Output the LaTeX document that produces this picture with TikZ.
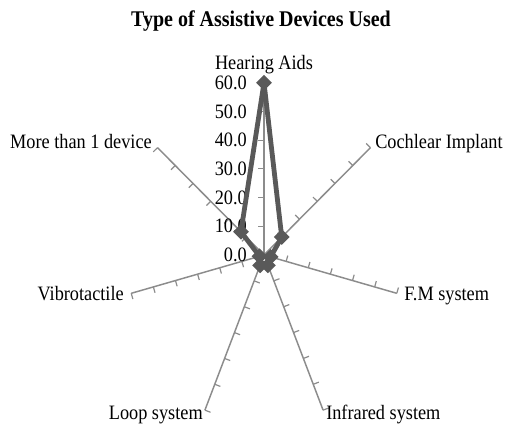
\documentclass[tikz,border=0pt]{standalone}
\usepackage{fontspec}
\setmainfont{Liberation Serif}
\usetikzlibrary{calc,shapes.geometric}
\definecolor{serie}{HTML}{595959}
\definecolor{axisgray}{HTML}{8C8C8C}
\newcommand{\vst}[1]{\scalebox{1}[1.12]{#1}}
\begin{document}
\begin{tikzpicture}[x=0.75pt,y=0.75pt,
  lbl/.style={inner sep=0pt, font=\fontsize{13.7}{16}\selectfont},
  axisline/.style={draw=axisgray, line width=1.1pt},
  tickmark/.style={draw=axisgray, line width=0.9pt},
  series/.style={draw=serie, line width=3.6pt, line join=round},
  mk/.style={diamond, fill=serie, inner sep=0pt, minimum size=12pt}]
\useasboundingbox (0,0) rectangle (507,429);
\fill[white] (0,0) rectangle (507,429);
\node[inner sep=0pt, font=\bfseries\fontsize{15}{18}\selectfont, anchor=base] (title) at (261,402.5) {\vst{Type of Assistive Devices Used}};
\coordinate (O) at (264,174);
\begin{scope}[shift={(264,174)}, xscale=2.27, yscale=2.87]
  \foreach \i/\a in {1/90,2/38.571,3/-12.857,4/-64.286,5/-115.714,6/-167.143,7/141.429} {
    \coordinate (e\i) at (\a:60);
    \foreach \k in {1,...,6} {\coordinate (t\i-\k) at (\a:\k*10);}
  }
  \coordinate (p1) at (90:60);
  \coordinate (p2) at (38.571:10);
  \coordinate (p3) at (-12.857:3);
  \coordinate (p4) at (-64.286:4);
  \coordinate (p5) at (-115.714:4);
  \coordinate (p6) at (-167.143:2);
  \coordinate (p7) at (141.429:13);
\end{scope}
\foreach \i in {1,...,7} {\draw[axisline] (O) -- (e\i);}
\foreach \i in {1,...,7} {\foreach \k in {1,...,6} {\draw[tickmark] (t\i-\k) -- ($(t\i-\k)!4.5pt!-90:(O)$);}}
\foreach \k/\v in {0/0.0,1/10.0,2/20.0,3/30.0,4/40.0,5/50.0,6/60.0}
  {\node[lbl, anchor=base east] (v\k) at (247,167.5+28.67*\k) {\vst{\v}};}
\draw[series] (p1) -- (p2) -- (p3) -- (p4) -- (p5) -- (p6) -- (p7) -- cycle;
\foreach \i in {1,...,7} {\node[mk] (d\i) at (p\i) {};}
\node[lbl, anchor=base] (l1) at (264,359.5) {\vst{Hearing Aids}};
\node[lbl, anchor=base west] (l2) at (375,280.5) {\vst{Cochlear Implant}};
\node[lbl, anchor=base west] (l3) at (404,128.5) {\vst{F.M system}};
\node[lbl, anchor=base west] (l4) at (326,9.5) {\vst{Infrared system}};
\node[lbl, anchor=base east] (l5) at (203,9.5) {\vst{Loop system}};
\node[lbl, anchor=base east] (l6) at (124,128.5) {\vst{Vibrotactile}};
\node[lbl, anchor=base east] (l7) at (152,280.5) {\vst{More than 1 device}};
\end{tikzpicture}
\end{document}
